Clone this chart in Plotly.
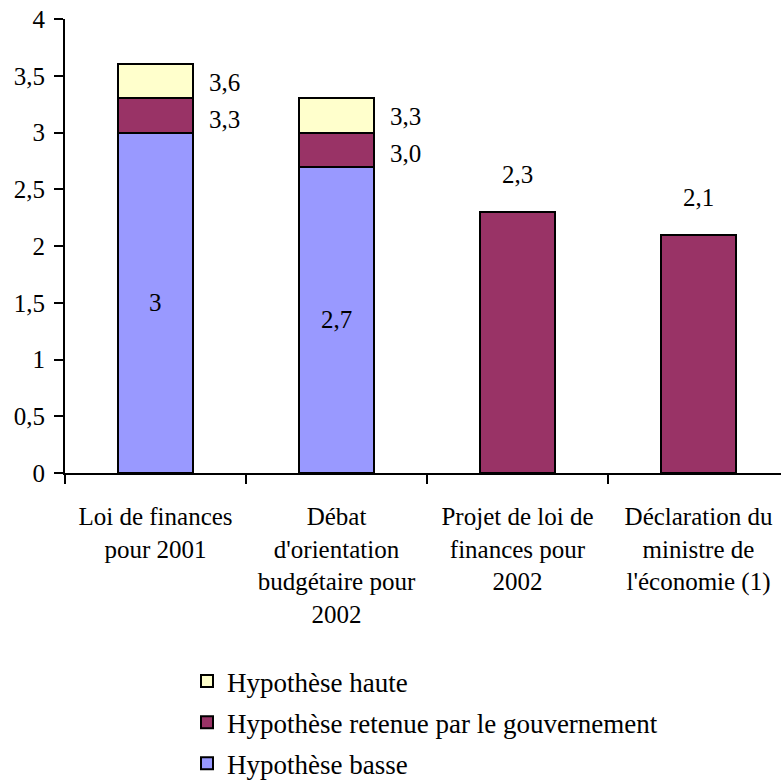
import plotly.graph_objects as go

# Growth hypotheses (%), cumulative level reached by each series
categories = [
    "Loi de finances<br>pour 2001",
    "Débat<br>d'orientation<br>budgétaire pour<br>2002",
    "Projet de loi de<br>finances pour<br>2002",
    "Déclaration du<br>ministre de<br>l'économie (1)",
]
basse = [3.0, 2.7, None, None]          # Hypothèse basse
retenue = [3.3, 3.0, 2.3, 2.1]          # Hypothèse retenue par le gouvernement
haute = [3.6, 3.3, None, None]          # Hypothèse haute

series_names = ["Hypothèse basse", "Hypothèse retenue par le gouvernement", "Hypothèse haute"]
colors = ["#9999FF", "#993366", "#FFFFCC"]
legend_ranks = [3, 2, 1]
y_ticks = [0, 0.5, 1, 1.5, 2, 2.5, 3, 3.5, 4]


def fmt(v, dec):
    return f"{v:.{dec}f}".replace(".", ",")


# stacked segment heights derived from cumulative levels
seg_basse = [b for b in basse]
seg_retenue = [r - (b or 0) for r, b in zip(retenue, basse)]
seg_haute = [None if h is None else h - r for h, r in zip(haute, retenue)]

FONT = "Liberation Serif"
line = dict(color="black", width=2)

fig = go.Figure()
for name, seg, col, rk in zip(series_names, [seg_basse, seg_retenue, seg_haute], colors, legend_ranks):
    fig.add_trace(go.Bar(
        x=categories, y=seg, name=name,
        marker=dict(color=col, line=line),
        legendgroup=name, legendrank=rk,
        hoverinfo="skip",
    ))

ann = []
for i, cat in enumerate(categories):
    if basse[i] is not None:
        # value inside the low-hypothesis segment
        ann.append(dict(x=cat, y=basse[i] / 2, text=fmt(basse[i], 0 if basse[i] == int(basse[i]) else 1),
                        showarrow=False, xanchor="center", yanchor="middle"))
        # retained and high hypotheses beside their segments
        ann.append(dict(x=cat, y=(basse[i] + retenue[i]) / 2, text=fmt(retenue[i], 1),
                        showarrow=False, xanchor="left", xshift=51, yshift=-4))
        if haute[i] is not None:
            ann.append(dict(x=cat, y=(retenue[i] + haute[i]) / 2, text=fmt(haute[i], 1),
                            showarrow=False, xanchor="left", xshift=51, yshift=-1))
    else:
        ann.append(dict(x=cat, y=retenue[i], text=fmt(retenue[i], 1),
                        showarrow=False, xanchor="center", yanchor="middle", yshift=37))
for a in ann:
    a["font"] = dict(family=FONT, size=25, color="black")

fig.update_layout(
    width=781, height=783,
    margin=dict(l=65, r=0, t=19, b=310, autoexpand=False),
    barmode="stack",
    bargap=0.59,
    separators=", ",
    plot_bgcolor="white",
    paper_bgcolor="white",
    font=dict(family=FONT, color="black"),
    annotations=ann,
    showlegend=True,
    legend=dict(
        traceorder="grouped",
        tracegroupgap=3,
        xref="container", yref="container",
        x=187 / 781, xanchor="left",
        y=1 - 657 / 783, yanchor="top",
        font=dict(family=FONT, size=27, color="black"),
        bgcolor="rgba(0,0,0,0)",
    ),
    xaxis=dict(
        type="category",
        range=[-0.5, -0.5 + 716 / 181],
        automargin=False,
        tickangle=0,
        showline=True, linecolor="black", linewidth=2,
        ticks="outside", tickson="boundaries", ticklen=9, tickwidth=2, tickcolor="black",
        ticklabelstandoff=20,
        tickfont=dict(family=FONT, size=25, color="black"),
        showgrid=False, zeroline=False, fixedrange=True,
    ),
    yaxis=dict(
        range=[0, 4],
        automargin=False,
        tickvals=y_ticks,
        ticktext=[fmt(v, 0) if v == int(v) else fmt(v, 1) for v in y_ticks],
        showline=True, linecolor="black", linewidth=2,
        ticks="outside", ticklen=9, tickwidth=2, tickcolor="black",
        ticklabelstandoff=4,
        tickfont=dict(family=FONT, size=25, color="black"),
        showgrid=False, zeroline=False, fixedrange=True,
    ),
)

fig.write_html("out.html")
